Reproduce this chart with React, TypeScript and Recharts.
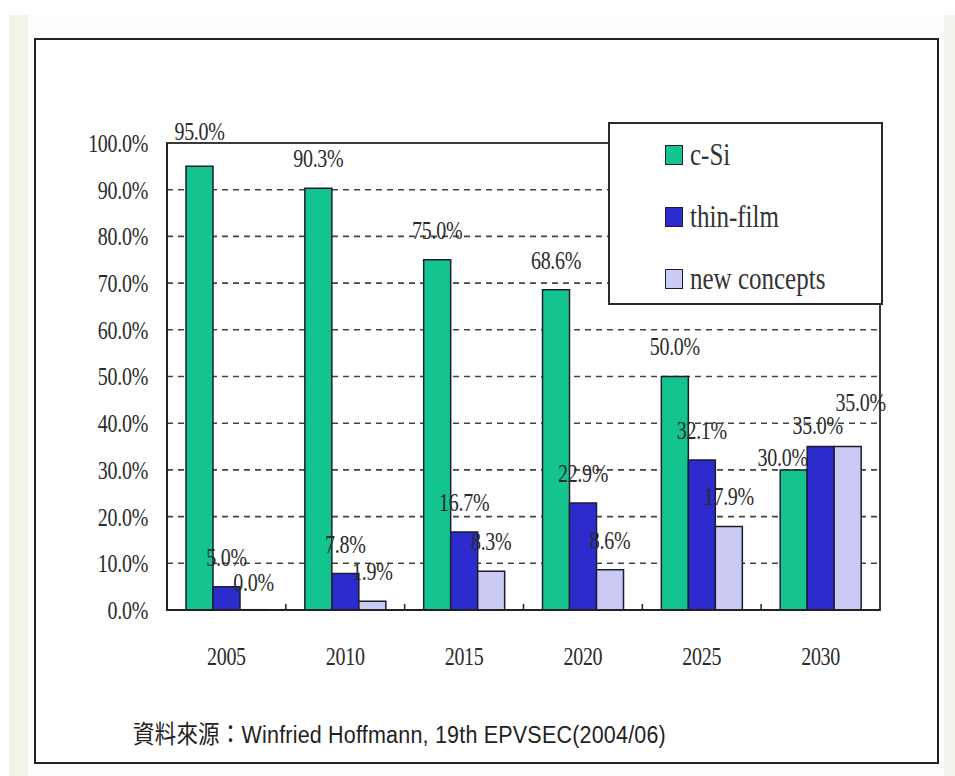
import React from "react";
import {
  BarChart,
  Bar,
  XAxis,
  YAxis,
  CartesianGrid,
  Legend,
  LabelList,
  ReferenceArea,
} from "recharts";

const years = ["2005", "2010", "2015", "2020", "2025", "2030"];
const cSi = [95.0, 90.3, 75.0, 68.6, 50.0, 30.0];
const thinFilm = [5.0, 7.8, 16.7, 22.9, 32.1, 35.0];
const newConcepts = [0.0, 1.9, 8.3, 8.6, 17.9, 35.0];
const yTicks = [0, 10, 20, 30, 40, 50, 60, 70, 80, 90, 100];
const seriesNames = ["c-Si", "thin-film", "new concepts"];

const data = years.map((year, i) => ({
  year,
  cSi: cSi[i],
  thinFilm: thinFilm[i],
  newConcepts: newConcepts[i],
}));

const W = 955;
const H = 776;
// plot box
const PLOT_LEFT = 167;
const PLOT_RIGHT = 880;
const PLOT_TOP = 143;
const PLOT_BOTTOM = 610;
const Y_AXIS_W = 60;
const X_AXIS_H = 30;
const BAND = (PLOT_RIGHT - PLOT_LEFT) / years.length;

const GREEN = "#14c48e";
const BLUE = "#2c2ccc";
const LAVENDER = "#cacaf4";
const OUTLINE = "#1c1c34";

const serif: React.CSSProperties = {
  fontFamily: '"Liberation Serif", "Times New Roman", serif',
  fontSize: 20,
  letterSpacing: -0.3,
  fill: "#2b2b2b",
};
// tall, narrow look of the old bitmap font
const stretch: React.CSSProperties = {
  transformBox: "fill-box",
  transformOrigin: "center",
  transform: "scaleY(1.3)",
};

// small nudges so the crowded labels don't sit on each other
const labelNudge: Record<string, Record<number, [number, number]>> = {
  cSi: { 0: [0, -5], 5: [-11, 17] },
  thinFilm: { 5: [-3, 8] },
  newConcepts: { 0: [0, 2], 5: [13, -15] },
};

const makeLabel = (series: string) => (props: any) => {
  const { x, y, width, value, index } = props;
  const [dx, dy] = labelNudge[series]?.[index] ?? [0, 0];
  return (
    <text
      x={Number(x) + Number(width) / 2 + dx}
      y={Number(y) - 30 + dy}
      textAnchor="middle"
      dominantBaseline="central"
      style={{ ...serif, ...stretch }}
    >
      {Number(value).toFixed(1)}%
    </text>
  );
};

const YTick = (props: any) => {
  const { x, y, payload } = props;
  return (
    <text
      x={x}
      y={y}
      textAnchor="end"
      dominantBaseline="central"
      style={{ ...serif, ...stretch }}
    >
      {Number(payload.value).toFixed(1)}%
    </text>
  );
};

const XTick = (props: any) => {
  const { x, y, payload, index } = props;
  return (
    <g>
      {index < years.length - 1 && (
        <line
          x1={x + BAND / 2}
          x2={x + BAND / 2}
          y1={y}
          y2={y - 6}
          stroke="#222"
          strokeWidth={1.5}
        />
      )}
      <text
        x={x}
        y={y + 46}
        textAnchor="middle"
        dominantBaseline="central"
        style={{ ...serif, ...stretch }}
      >
        {payload.value}
      </text>
    </g>
  );
};

const LegendBox = (props: any) => {
  const items = [...(props.payload || [])].sort(
    (a: any, b: any) => seriesNames.indexOf(a.value) - seriesNames.indexOf(b.value)
  );
  return (
    <div
      style={{
        width: 275,
        height: 183,
        boxSizing: "border-box",
        border: "2px solid #2a2a2a",
        background: "#fff",
        paddingLeft: 55,
        paddingTop: 0,
      }}
    >
      {items.map((item: any) => (
        <div
          key={item.value}
          style={{ height: 62, display: "flex", alignItems: "center" }}
        >
          <span
            style={{
              display: "inline-block",
              width: 16,
              height: 18,
              background: item.color,
              border: `1.5px solid ${OUTLINE}`,
            }}
          />
          <span
            style={{
              display: "inline-block",
              marginLeft: 7,
              fontFamily: '"Liberation Serif", "Times New Roman", serif',
              fontSize: 25,
              color: "#333",
              transform: "scaleY(1.3)",
              lineHeight: "28px",
            }}
          >
            {item.value}
          </span>
        </div>
      ))}
    </div>
  );
};

export default function App() {
  return (
    <div
      style={{
        position: "absolute",
        left: 0,
        top: 0,
        width: W,
        height: H,
        background: "#fff",
        overflow: "hidden",
      }}
    >
      <div
        style={{
          position: "absolute",
          left: 9,
          top: 15,
          width: W - 9,
          height: H - 15,
          background: "#f3f3e9",
        }}
      />
      <div
        style={{
          position: "absolute",
          left: 28,
          top: 15,
          width: 916,
          height: H - 15,
          background: "#fdfdfd",
        }}
      />
      <div
        style={{
          position: "absolute",
          left: 34,
          top: 38,
          width: 905,
          height: 726,
          boxSizing: "border-box",
          border: "2px solid #222",
          background: "#fff",
        }}
      />
      <div style={{ position: "absolute", left: 0, top: 0 }}>
        <BarChart
          width={W}
          height={H}
          data={data}
          margin={{
            top: PLOT_TOP,
            right: W - PLOT_RIGHT,
            bottom: H - PLOT_BOTTOM - X_AXIS_H,
            left: PLOT_LEFT - Y_AXIS_W,
          }}
          barCategoryGap="16%"
          barGap={0}
        >
          <CartesianGrid
            vertical={false}
            stroke="#444"
            strokeWidth={1.6}
            strokeDasharray="6 5"
          />
          <ReferenceArea
            x1="2005"
            x2="2030"
            y1={0}
            y2={100}
            fill="none"
            stroke="#3a3a3a"
            strokeWidth={2}
            ifOverflow="visible"
          />
          <Legend
            layout="vertical"
            align="center"
            verticalAlign="middle"
            content={<LegendBox />}
            wrapperStyle={{ left: 608, top: 122, width: 275, height: 183 }}
          />
          <Bar
            dataKey="cSi"
            name="c-Si"
            fill={GREEN}
            stroke={OUTLINE}
            strokeWidth={1.5}
            isAnimationActive={false}
          >
            <LabelList dataKey="cSi" content={makeLabel("cSi")} />
          </Bar>
          <Bar
            dataKey="thinFilm"
            name="thin-film"
            fill={BLUE}
            stroke={OUTLINE}
            strokeWidth={1.5}
            isAnimationActive={false}
          >
            <LabelList dataKey="thinFilm" content={makeLabel("thinFilm")} />
          </Bar>
          {/* minPointSize keeps the 0.0% entry so its label is still drawn */}
          <Bar
            dataKey="newConcepts"
            name="new concepts"
            fill={LAVENDER}
            stroke={OUTLINE}
            strokeWidth={1.5}
            minPointSize={0.3}
            isAnimationActive={false}
          >
            <LabelList
              dataKey="newConcepts"
              content={makeLabel("newConcepts")}
            />
          </Bar>
          <XAxis
            dataKey="year"
            height={X_AXIS_H}
            tickSize={0}
            tickMargin={0}
            tickLine={false}
            axisLine={{ stroke: "#222", strokeWidth: 2 }}
            tick={<XTick />}
            interval={0}
          />
          <YAxis
            type="number"
            domain={[0, 100]}
            ticks={yTicks}
            width={Y_AXIS_W}
            tickSize={0}
            tickMargin={19}
            tickLine={false}
            axisLine={{ stroke: "#222", strokeWidth: 2 }}
            tick={<YTick />}
            interval={0}
          />
        </BarChart>
      </div>
      <div
        style={{
          position: "absolute",
          left: 133,
          top: 722,
          fontFamily: '"Liberation Sans", Arial, "Noto Sans CJK TC", sans-serif',
          fontSize: 21.5,
          letterSpacing: 0.2,
          lineHeight: "26px",
          color: "#222",
          whiteSpace: "nowrap",
          transform: "scaleY(1.15)",
          transformOrigin: "left center",
        }}
      >
        資料來源：Winfried Hoffmann, 19th EPVSEC(2004/06)
      </div>
    </div>
  );
}
